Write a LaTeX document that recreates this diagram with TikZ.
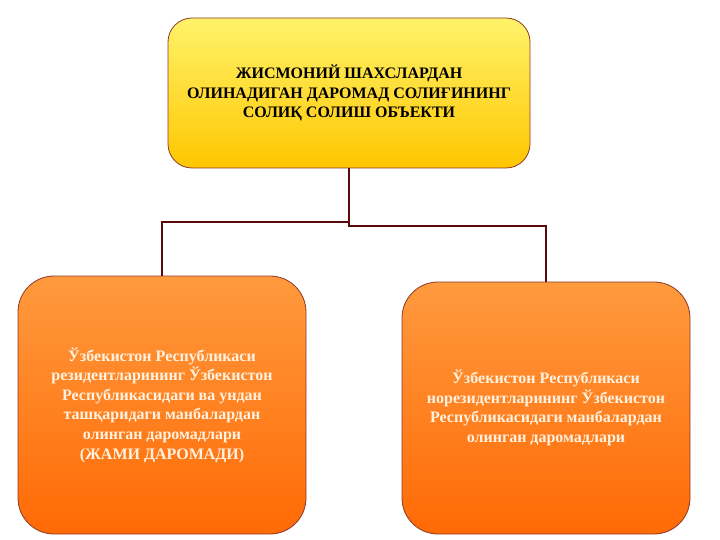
\documentclass[tikz,border=0pt]{standalone}
\usepackage{fontspec}
\setmainfont{Liberation Serif}
\usepackage{xcolor}
\usepackage{tikz}
\usetikzlibrary{shapes,positioning,calc}
\definecolor{darkmaroon}{HTML}{5A0A0A}
\definecolor{edgebrown}{HTML}{8B3A2A}
\definecolor{goldtop}{HTML}{FFF36A}
\definecolor{goldbot}{HTML}{FFC600}
\definecolor{orangetop}{HTML}{FF9A3E}
\definecolor{orangebot}{HTML}{FF6A05}
\definecolor{paletext}{HTML}{FFF2E0}

\begin{document}
\begin{tikzpicture}[x=1pt,y=-1pt,
    headbox/.style={draw=edgebrown,line width=0.8pt,rounded corners=24pt,
      top color=goldtop,bottom color=goldbot,
      minimum width=362pt,minimum height=150pt,align=center,
      font=\fontsize{16}{19.5}\selectfont\bfseries},
    incomebox/.style={draw=edgebrown,line width=0.8pt,rounded corners=36pt,
      top color=orangetop,bottom color=orangebot,text=paletext,
      minimum width=288pt,align=center,
      font=\fontsize{16}{19.6}\selectfont\bfseries},
    link/.style={darkmaroon,line width=1.6pt}]
  \useasboundingbox (0,0) rectangle (720,540);

  % Top object box
  \node[headbox] (object) at (349,93)
    {ЖИСМОНИЙ ШАХСЛАРДАН\\ОЛИНАДИГАН ДАРОМАД СОЛИҒИНИНГ\\СОЛИҚ СОЛИШ ОБЪЕКТИ};

  % Residents
  \node[incomebox,minimum height=258pt] (resident) at (162,405)
    {Ўзбекистон Республикаси\\резидентларининг Ўзбекистон\\Республикасидаги ва ундан\\ташқаридаги манбалардан\\олинган даромадлари\\(ЖАМИ ДАРОМАДИ)};

  % Non-residents
  \node[incomebox,minimum height=252pt] (nonresident) at (546,408)
    {Ўзбекистон Республикаси\\норезидентларининг Ўзбекистон\\Республикасидаги манбалардан\\олинган даромадлари};

  % Connectors
  \coordinate (leftjoint) at (349,222);
  \coordinate (rightjoint) at (349,226);
  \draw[link] (object.south) -- (leftjoint) -| (resident.north);
  \draw[link] (object.south) -- (rightjoint) -| (nonresident.north);
\end{tikzpicture}
\end{document}
